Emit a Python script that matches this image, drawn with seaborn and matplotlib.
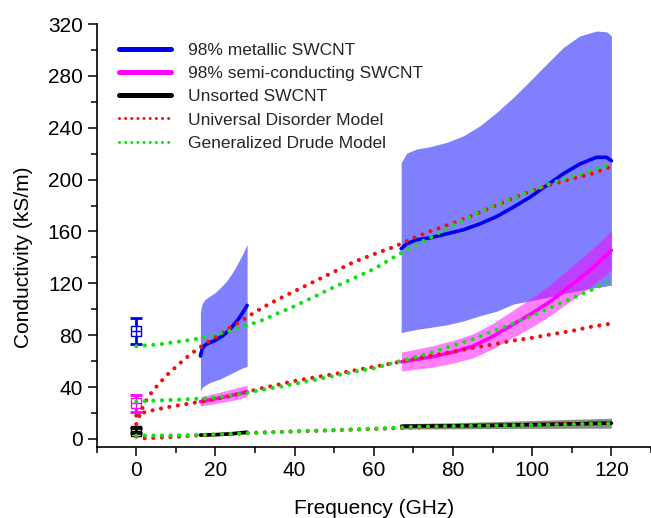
import matplotlib
matplotlib.use("Agg")
import matplotlib.pyplot as plt
import seaborn as sns
import pandas as pd
from matplotlib.lines import Line2D
from matplotlib.ticker import MultipleLocator

# ---- model curves (GHz, kS/m) ----
freq_model = [0, 2, 4, 6, 8, 10, 12, 14, 16, 18, 20, 22, 24, 26, 28, 32, 36, 40, 45,
              50, 55, 60, 65, 70, 75, 80, 85, 90, 95, 100, 105, 110, 115, 120]
udm_met = [11.5, 27.5, 36.5, 43.5, 50, 55.5, 61, 66, 70.5, 74.5, 78.5, 82.5, 86.5, 90,
           94, 101.5, 108, 114, 121.5, 129, 136.5, 142.5, 148, 155, 161, 166.5, 172.5,
           179, 185.5, 191.5, 196.5, 200.5, 204.5, 210]
gdm_met = [71.5, 72, 72.5, 73, 74, 74.8, 75.6, 76.5, 77.6, 79, 80.3, 82, 83.8, 85.6,
           87.5, 91.8, 97.3, 102.4, 109.8, 117.2, 124, 131, 140, 149, 156.5, 165, 172.8,
           179.5, 185.5, 191.5, 197.5, 202.5, 207.5, 212]
udm_semi = [18, 20.5, 22, 23.3, 24.5, 25.6, 26.6, 27.6, 28.6, 29.6, 30.8, 32, 33.3, 34.8,
            36.3, 39.3, 42, 44.7, 47.5, 50, 52.8, 55.6, 58.5, 61.8, 64.5, 67.2, 70.3,
            72.8, 75.8, 78, 80.8, 83.3, 86.6, 89]
gdm_semi = [28.7, 29.2, 29.4, 29.7, 30, 30.2, 30.5, 30.8, 31, 31.3, 32, 32.8, 33.7, 34.6,
            35.6, 38, 40.2, 42.5, 45.5, 48.7, 51.8, 54.5, 58.8, 62.6, 67.2, 72, 77, 83,
            88.8, 95, 101.8, 108.5, 115, 122]
udm_uns = [1.8, 0.5, 0.8, 1.0, 1.3, 1.6, 2.0, 2.4, 2.8, 3.1, 3.3, 3.6, 3.9, 4.2, 4.6,
           5.0, 5.4, 5.8, 6.2, 6.7, 7.2, 7.7, 8.2, 8.8, 9.3, 9.7, 10.0, 10.4, 10.7, 11.0,
           11.3, 11.6, 12.0, 12.4]
gdm_uns = [2.5, 2.6, 2.6, 2.7, 2.7, 2.8, 2.9, 3.0, 3.1, 3.3, 3.5, 3.7, 3.9, 4.1, 4.4,
           4.9, 5.4, 5.9, 6.4, 6.9, 7.4, 8.0, 8.6, 9.3, 9.6, 9.9, 10.1, 10.3, 10.5, 10.7,
           10.9, 11.2, 11.5, 11.8]

# ---- measured conductivity: K-band (16-28 GHz) and V/W-band (67-120 GHz) ----
met1_f = [16.2, 16.6, 17.2, 18, 19, 20, 21, 22, 23, 24, 25, 26, 27, 28]
met1_s = [64, 69, 72, 73.5, 74.8, 76, 78, 80, 82.7, 85.8, 89.3, 93.3, 98, 103]
met1_hi = [98, 104, 107, 109, 111, 113, 116, 119, 122.5, 127, 132, 137.5, 143.5, 150]
met1_lo = [37, 39.5, 41, 42.5, 44, 45, 46, 47.5, 49, 50.5, 52, 53.5, 55, 56]

met2_f = [66.9, 68.3, 70.8, 74.2, 78.4, 82.6, 86.8, 91, 95.2, 99.4, 103.6, 107.8, 112,
          116.2, 118.8, 120]
met2_s = [146.7, 150.5, 153.6, 155.1, 158.2, 161.3, 165.9, 171.5, 178.7, 186.4, 195.4,
          204.4, 212, 217.2, 217.2, 214.6]
met2_hi = [213, 220.5, 223.6, 225.4, 228.7, 233.8, 241.5, 251.8, 263.3, 276, 289, 301.8,
           310.8, 314.6, 314, 310.8]
met2_lo = [82, 83, 84.5, 86, 88, 91, 95, 98.5, 104, 106.5, 109, 112, 114.5, 116.8, 118,
           118.5]

semi1_f = [16.2, 18, 20, 22, 24, 26, 28]
semi1_s = [28.7, 29.9, 31, 32.2, 33.5, 34.9, 36.4]
semi1_hi = [32.5, 33.8, 35.3, 36.8, 38.3, 39.9, 41.5]
semi1_lo = [25.4, 26.3, 27.3, 28.4, 29.5, 31, 32.5]

semi2_f = [67, 70, 75, 80, 85, 90, 95, 100, 105, 110, 115, 120]
semi2_s = [59.5, 61, 63.5, 67, 71.5, 79, 88, 97, 107, 119, 131, 145.5]
semi2_hi = [67, 68.8, 72, 76, 81, 89, 99, 109, 120, 133, 146, 160.5]
semi2_lo = [52.5, 53.5, 55.5, 58.5, 62.5, 69.5, 78, 86.5, 96, 107, 118, 130.5]

uns1_f = [16.2, 20, 24, 28]
uns1_s = [3, 3.3, 4, 5.2]
uns1_hi = [3.8, 4.2, 5, 6.3]
uns1_lo = [2.2, 2.5, 3, 4.1]

uns2_f = [67, 80, 90, 100, 110, 120]
uns2_s = [9.8, 10.1, 10.5, 11, 11.6, 12.2]
uns2_hi = [11.8, 12.5, 13.3, 14.2, 15.1, 16]
uns2_lo = [7.6, 7.8, 8, 8.1, 8.2, 8.3]

# DC values with error bars
dc_f = [0, 0, 0]
dc_s = [83.3, 27.4, 6.2]
dc_err = [9.8, 6.8, 2.0]

labels = ["98% metallic SWCNT", "98% semi-conducting SWCNT", "Unsorted SWCNT",
          "Universal Disorder Model", "Generalized Drude Model"]

BLUE = "#0000f0"
MAGENTA = "#ff00ff"
BLACK = "#000000"
RED = "#ee1111"
GREEN = "#11e011"

sns.set_theme(style="ticks")
plt.rcParams["font.family"] = ["Liberation Sans", "DejaVu Sans"]
plt.rcParams["axes.linewidth"] = 1.2

fig = plt.figure(figsize=(6.51, 5.18), dpi=100)
ax = fig.add_axes([0.1485, 0.1376, 0.8515, 0.816])

# uncertainty bands
for f, lo, hi in [(met1_f, met1_lo, met1_hi), (met2_f, met2_lo, met2_hi)]:
    ax.fill_between(f, lo, hi, color="#8080ff", lw=0, zorder=1)
for f, lo, hi in [(semi1_f, semi1_lo, semi1_hi), (semi2_f, semi2_lo, semi2_hi)]:
    ax.fill_between(f, lo, hi, color=MAGENTA, alpha=0.5, lw=0, zorder=2)
for f, lo, hi in [(uns1_f, uns1_lo, uns1_hi), (uns2_f, uns2_lo, uns2_hi)]:
    ax.fill_between(f, lo, hi, color=BLACK, alpha=0.45, lw=0, zorder=2)

# measured curves
segments = [(met1_f, met1_s, BLUE), (met2_f, met2_s, BLUE),
            (semi1_f, semi1_s, MAGENTA), (semi2_f, semi2_s, MAGENTA),
            (uns1_f, uns1_s, BLACK), (uns2_f, uns2_s, BLACK)]
for f, s, c in segments:
    sns.lineplot(x=f, y=s, ax=ax, color=c, lw=2.6, sort=False, estimator=None,
                 legend=False, zorder=3, solid_capstyle="round")

# DC points: open square with cross and error bars
for x0, s, e, c in zip(dc_f, dc_s, dc_err, [BLUE, MAGENTA, BLACK]):
    ax.errorbar([x0], [s], yerr=[[e], [e]], fmt="none", ecolor=c, elinewidth=2,
                capsize=4.5, capthick=2, zorder=4)
    ax.plot([x0], [s], marker="s", ms=6.5, mfc="white" if c != BLACK else "none",
            mec=c, mew=1.0, ls="none", zorder=5)
    ax.plot([x0], [s], marker="+", ms=6.5, mec=c, mew=1.0, ls="none", zorder=5)

# model curves as dotted lines
dot_style = dict(lw=3.0, linestyle=(0, (0.01, 2.05)), dash_capstyle="round",
                 sort=False, estimator=None, legend=False, zorder=6)
model_df = pd.DataFrame({"f": freq_model,
                         "udm_met": udm_met, "udm_semi": udm_semi, "udm_uns": udm_uns,
                         "gdm_met": gdm_met, "gdm_semi": gdm_semi, "gdm_uns": gdm_uns})
for col in ["udm_met", "udm_semi", "udm_uns"]:
    sns.lineplot(data=model_df, x="f", y=col, ax=ax, color=RED, **dot_style)
for col in ["gdm_met", "gdm_semi", "gdm_uns"]:
    sns.lineplot(data=model_df, x="f", y=col, ax=ax, color=GREEN, **dot_style)

# axes
ax.set_xlim(-10, 130)
ax.set_ylim(-6, 320)
ax.xaxis.set_major_locator(MultipleLocator(20))
ax.xaxis.set_minor_locator(MultipleLocator(10))
ax.yaxis.set_major_locator(MultipleLocator(40))
ax.yaxis.set_minor_locator(MultipleLocator(20))
ax.tick_params(which="major", length=6.5, width=1.1, direction="out",
               labelsize=15, pad=3.5, color="black", labelcolor="black")
ax.tick_params(which="minor", length=4, width=1.1, direction="out", color="black")
for side in ["top", "right"]:
    ax.spines[side].set_visible(False)
for side in ["left", "bottom"]:
    ax.spines[side].set_color("black")
ax.set_xlabel("Frequency (GHz)", fontsize=15, labelpad=14, color="black")
ax.set_ylabel("Conductivity (kS/m)", fontsize=15, color="black")
ax.yaxis.set_label_coords(-0.115, 0.449)
ax.set_facecolor("white")

handles = [Line2D([], [], color=BLUE, lw=3.6),
           Line2D([], [], color=MAGENTA, lw=3.6),
           Line2D([], [], color=BLACK, lw=3.6),
           Line2D([], [], color=RED, lw=2.2, linestyle=(0, (0.01, 2.0)),
                  dash_capstyle="round"),
           Line2D([], [], color=GREEN, lw=2.2, linestyle=(0, (0.01, 2.0)),
                  dash_capstyle="round")]
fig.legend(handles, labels, loc="upper left", bbox_to_anchor=(0.1828, 0.918),
           frameon=False, fontsize=12.5, handlelength=3.0, handletextpad=1.0,
           labelspacing=0.47, borderpad=0, borderaxespad=0)

fig.savefig("out.png", dpi=100, facecolor="white")
